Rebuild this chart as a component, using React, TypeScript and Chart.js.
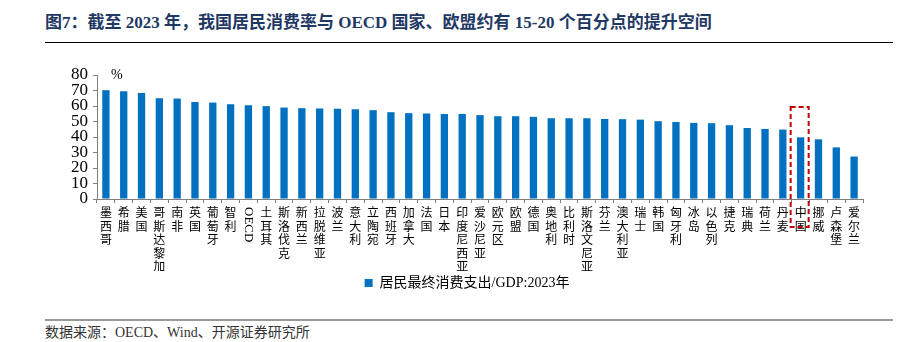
import React, { useEffect, useRef } from 'react';
import { Chart, registerables } from 'chart.js';

Chart.register(...registerables);

const categories: string[] = [
  '墨西哥', '希腊', '美国', '哥斯达黎加', '南非', '英国', '葡萄牙', '智利', 'OECD', '土耳其',
  '斯洛伐克', '新西兰', '拉脱维亚', '波兰', '意大利', '立陶宛', '西班牙', '加拿大', '法国', '日本',
  '印度尼西亚', '爱沙尼亚', '欧元区', '欧盟', '德国', '奥地利', '比利时', '斯洛文尼亚', '芬兰', '澳大利亚',
  '瑞士', '韩国', '匈牙利', '冰岛', '以色列', '捷克', '瑞典', '荷兰', '丹麦', '中国',
  '挪威', '卢森堡', '爱尔兰',
];

const consumptionShare: number[] = [
  70.2, 69.5, 68.4, 65.0, 64.8, 62.6, 62.2, 61.1, 60.5, 59.9,
  59.0, 58.6, 58.4, 58.2, 57.9, 57.3, 56.0, 55.4, 55.2, 54.9,
  54.9, 54.1, 53.4, 53.4, 53.0, 52.1, 52.1, 52.1, 51.6, 51.5,
  51.2, 50.2, 49.7, 49.1, 48.9, 47.6, 45.8, 45.2, 44.8, 39.8,
  38.5, 33.3, 27.4,
];

const seriesLabel = '居民最终消费支出/GDP:2023年';
const yTicks: number[] = [0, 10, 20, 30, 40, 50, 60, 70, 80];
const highlight = '中国';
const unitLabel = '%';
const titleText = '图7：截至 2023 年，我国居民消费率与 OECD 国家、欧盟约有 15-20 个百分点的提升空间';
const sourceText = '数据来源：OECD、Wind、开源证券研究所';

const SERIF = '"Liberation Serif", "Times New Roman", "Noto Sans CJK SC", serif';

export default function App() {
  const ref = useRef<HTMLCanvasElement | null>(null);

  useEffect(() => {
    document.body.style.margin = '0';
    const canvas = ref.current;
    if (!canvas) return;

    const overlay = {
      id: 'overlay',
      afterDraw(chart: any) {
        const { ctx, chartArea, scales } = chart;
        const x = scales.x;
        const y = scales.y;
        ctx.save();
        ctx.fillStyle = '#000';
        ctx.font = '14px ' + SERIF;
        ctx.textAlign = 'left';
        ctx.textBaseline = 'middle';
        ctx.fillText(unitLabel, chartArea.left + 14, y.getPixelForValue(yTicks[yTicks.length - 1]));
        categories.forEach((c, i) => {
          if (/^[A-Za-z]+$/.test(c)) {
            const px = x.getPixelForValue(i);
            ctx.save();
            ctx.translate(px, chartArea.bottom + 8);
            ctx.rotate(Math.PI / 2);
            ctx.font = '13px ' + SERIF;
            ctx.textAlign = 'left';
            ctx.textBaseline = 'middle';
            ctx.fillText(c, 0, 0);
            ctx.restore();
          }
        });
        const hi = categories.indexOf(highlight);
        if (hi >= 0) {
          const cx = x.getPixelForValue(hi);
          const top = y.getPixelForValue(59.3);
          const bottom = chartArea.bottom + 28;
          ctx.strokeStyle = '#C00000';
          ctx.lineWidth = 2;
          ctx.setLineDash([5, 3]);
          ctx.strokeRect(cx - 10, top, 18, bottom - top);
        }
        ctx.restore();
      },
    };

    const chart = new Chart(canvas, {
      type: 'bar',
      data: {
        labels: categories,
        datasets: [
          {
            label: seriesLabel,
            data: consumptionShare,
            backgroundColor: '#0070C0',
            borderWidth: 0,
            barPercentage: 0.82,
            categoryPercentage: 0.5,
          },
        ],
      },
      options: {
        responsive: false,
        animation: false,
        devicePixelRatio: 1,
        layout: { padding: { left: 71, right: 53, top: 25, bottom: 0 } },
        plugins: {
          legend: {
            display: true,
            position: 'bottom',
            labels: {
              boxWidth: 8,
              boxHeight: 8,
              color: '#000',
              font: { family: SERIF, size: 14 },
              padding: 5,
            },
          },
          tooltip: { enabled: false },
          title: { display: false },
        },
        scales: {
          x: {
            type: 'category',
            offset: true,
            grid: {
              display: true,
              offset: true,
              drawOnChartArea: false,
              drawTicks: true,
              tickLength: 4,
              color: '#7f7f7f',
            },
            border: { display: true, color: '#7f7f7f', width: 1 },
            ticks: {
              autoSkip: false,
              maxRotation: 0,
              minRotation: 0,
              padding: 3,
              color: '#000',
              font: { family: '"Noto Sans CJK SC", sans-serif', size: 12, lineHeight: 1.12 },
              callback: (_v: any, i: number) => {
                const c = categories[i];
                return /^[A-Za-z]+$/.test(c) ? '' : c.split('');
              },
            },
            afterFit: (scale: any) => {
              scale.height = 72;
            },
          },
          y: {
            min: yTicks[0],
            max: yTicks[yTicks.length - 1],
            grid: {
              display: true,
              drawOnChartArea: false,
              drawTicks: true,
              tickLength: 4,
              color: '#7f7f7f',
            },
            border: { display: true, color: '#7f7f7f', width: 1 },
            ticks: {
              stepSize: 10,
              autoSkip: false,
              padding: 5,
              color: '#000',
              font: { family: SERIF, size: 17 },
            },
            afterFit: (scale: any) => {
              scale.width = 26;
            },
          },
        },
      },
      plugins: [overlay],
    });
    return () => chart.destroy();
  }, []);

  return (
    <div style={{ position: 'relative', width: 916, height: 342, background: '#fff', overflow: 'hidden' }}>
      <div
        style={{
          position: 'absolute',
          left: 45,
          top: 12,
          fontFamily: SERIF,
          fontWeight: 'bold',
          fontSize: 17,
          lineHeight: '22px',
          color: '#1F3864',
          whiteSpace: 'nowrap',
        }}
      >
        {titleText}
      </div>
      <div style={{ position: 'absolute', left: 45, top: 42, width: 848, height: 0, borderTop: '1.5px solid #000' }} />
      <div style={{ position: 'absolute', left: 0, top: 50, width: 916, height: 250 }}>
        <canvas ref={ref} width={916} height={250} style={{ display: 'block' }} />
      </div>
      <div style={{ position: 'absolute', left: 45, top: 319, width: 848, height: 0, borderTop: '2px solid #9a9a9a' }} />
      <div
        style={{
          position: 'absolute',
          left: 45,
          top: 324,
          fontFamily: SERIF,
          fontSize: 14,
          lineHeight: '18px',
          color: '#333',
          whiteSpace: 'nowrap',
        }}
      >
        {sourceText}
      </div>
    </div>
  );
}
